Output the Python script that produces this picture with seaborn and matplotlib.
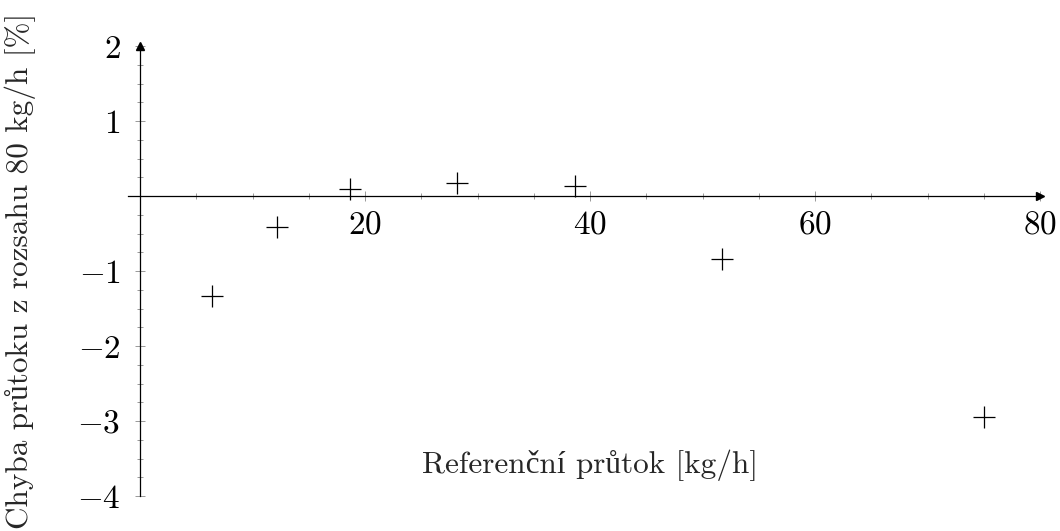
import numpy as np
import pandas as pd
import seaborn as sns
import matplotlib
matplotlib.use("Agg")
import matplotlib.pyplot as plt
from matplotlib.ticker import FixedLocator, MultipleLocator, FuncFormatter

# Datos
prutok_ref = [6.4, 12.15, 18.67, 28.15, 38.67, 51.7, 75.0]
chyba = [-1.33, -0.41, 0.10, 0.18, 0.13, -0.845, -2.94]

x_ticks = [20, 40, 60, 80]
y_ticks = [-4, -3, -2, -1, 1, 2]

df = pd.DataFrame({"prutok": prutok_ref, "chyba": chyba})

sns.set_style("white")
plt.rcParams["mathtext.fontset"] = "cm"
plt.rcParams["font.family"] = ["cmr10", "Liberation Serif"]
plt.rcParams["axes.unicode_minus"] = False

fig = plt.figure(figsize=(10.6, 5.31), dpi=100)
ax = fig.add_axes([128 / 1060, 35 / 531, 912 / 1060, 450 / 531])

sns.scatterplot(data=df, x="prutok", y="chyba", marker="+", s=230,
                color="black", linewidth=0.9, ax=ax, clip_on=False)

ax.set_xlim(-1.07, 80)
ax.set_ylim(-4, 2)

# Ejes en el centro (estilo pgfplots)
for s in ["top", "right"]:
    ax.spines[s].set_visible(False)
ax.spines["left"].set_position(("data", 0))
ax.spines["bottom"].set_position(("data", 0))
for s in ["left", "bottom"]:
    ax.spines[s].set_linewidth(0.9)
    ax.spines[s].set_color("black")

ax.plot(1, 0, ">", color="black", markersize=5.5, transform=ax.get_yaxis_transform(), clip_on=False)
ax.plot(0, 1, "^", color="black", markersize=5.5, transform=ax.get_xaxis_transform(), clip_on=False)

ax.xaxis.set_major_locator(FixedLocator(x_ticks))
ax.yaxis.set_major_locator(FixedLocator(y_ticks))
ax.xaxis.set_minor_locator(MultipleLocator(5))
ax.yaxis.set_minor_locator(MultipleLocator(0.25))
fmt = FuncFormatter(lambda v, p: f"${v:g}$")
ax.xaxis.set_major_formatter(fmt)
ax.yaxis.set_major_formatter(fmt)

ax.tick_params(which="both", bottom=True, left=True)
ax.tick_params(which="major", direction="inout", length=7, width=0.6, color="#888888",
               labelsize=24, labelcolor="black")
ax.tick_params(which="minor", direction="inout", length=5, width=0.6, color="#888888")
ax.tick_params(axis="x", pad=7)
ax.tick_params(axis="y", pad=10.5)

ax.set_xlabel("Referenční průtok [kg/h]", fontsize=22.5)
ax.set_ylabel("Chyba průtoku z rozsahu 80 kg/h [%]", fontsize=22.5)
ax.xaxis.set_label_coords(0.5066, 0.069)
ax.xaxis.label.set_va("center")
ax.yaxis.set_label_coords(-0.118, 0.5)
ax.yaxis.label.set_va("center")

fig.savefig("out.png", dpi=100)
